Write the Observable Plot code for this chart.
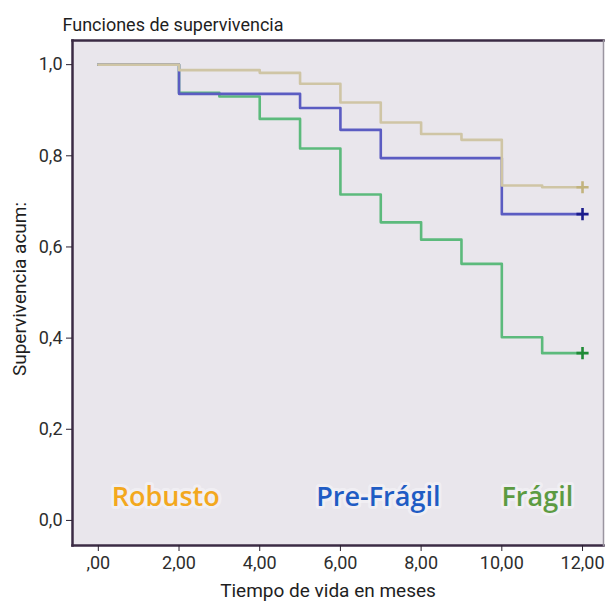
<!DOCTYPE html>
<html>
<head>
<meta charset="utf-8">
<script src="https://cdn.jsdelivr.net/npm/d3@7"></script>
<script src="https://cdn.jsdelivr.net/npm/@observablehq/plot@0.6"></script>
<style>
  html, body { margin: 0; padding: 0; background: #ffffff; }
  #chart svg { display: block; }
</style>
</head>
<body>
<div id="chart"></div>
<script>
// ---- Data ----
const groups = ["Robusto", "Pre-Frágil", "Frágil"];
const lineColors = ["#cfc5a5", "#5b5cc2", "#5cba7c"];
const markerColors = ["#c2b37e", "#1b1b8c", "#1f8a36"];
const legendColors = ["#f3a81e", "#1f5cc4", "#5c9b42"];

const robustoTime = [0, 2, 4, 5, 6, 7, 8, 9, 10, 11, 12];
const robustoSurv = [1.0, 0.988, 0.982, 0.958, 0.917, 0.873, 0.848, 0.835, 0.735, 0.731, 0.731];

const prefragilTime = [0, 2, 5, 6, 7, 10, 12];
const prefragilSurv = [1.0, 0.936, 0.905, 0.857, 0.795, 0.672, 0.672];

const fragilTime = [0, 2, 3, 4, 5, 6, 7, 8, 9, 10, 11, 12];
const fragilSurv = [1.0, 0.938, 0.930, 0.881, 0.816, 0.715, 0.654, 0.616, 0.563, 0.402, 0.367, 0.367];

const xTicks = [0, 2, 4, 6, 8, 10, 12];
const yTicks = [0, 0.2, 0.4, 0.6, 0.8, 1.0];

const titleText = "Funciones de supervivencia";
const xLabel = "Tiempo de vida en meses";
const yLabel = "Supervivencia acum:";

// legend label anchor positions (in data units)
const legendX = [1.67, 6.94, 10.88];
const legendY = 0.05;

// ---- Build tables ----
const series = [
  {g: groups[0], t: robustoTime, s: robustoSurv},
  {g: groups[1], t: prefragilTime, s: prefragilSurv},
  {g: groups[2], t: fragilTime, s: fragilSurv}
];
const rows = series.flatMap(d => d.t.map((t, i) => ({group: d.g, time: t, surv: d.s[i]})));
const ends = series.map(d => ({group: d.g, time: d.t[d.t.length - 1], surv: d.s[d.s.length - 1]}));
const legendRows = groups.map((g, i) => ({group: g, x: legendX[i], y: legendY}));

const drawOrder = [groups[2], groups[1], groups[0]];

const fmtX = d => d === 0 ? ",00" : d.toFixed(2).replace(".", ",");
const fmtY = d => d.toFixed(1).replace(".", ",");

const font = "Roboto, 'Liberation Sans', sans-serif";

const chart = Plot.plot({
  width: 608,
  height: 603,
  marginLeft: 72,
  marginRight: 5,
  marginTop: 40,
  marginBottom: 58,
  style: {fontFamily: font, background: "#ffffff", overflow: "visible"},
  x: {domain: [-0.64, 12.52]},
  y: {domain: [-0.055, 1.053]},
  marks: [
    Plot.frame({fill: "#e9e6ec", stroke: null}),
    Plot.frame({anchor: "top", stroke: "#3b2b45", strokeWidth: 2.5}),
    Plot.frame({anchor: "left", stroke: "#3b2b45", strokeWidth: 2.5}),
    Plot.frame({anchor: "bottom", stroke: "#3b2b45", strokeWidth: 2.5}),
    Plot.frame({anchor: "right", stroke: "#9a95a0", strokeWidth: 1.5}),
    Plot.axisX({ticks: xTicks, tickFormat: fmtX, tickSize: 6, tickPadding: 5, tickWidth: 3,
      stroke: "#2a2030", fontSize: 18, fill: "#2d2d2d", label: null}),
    Plot.axisY({ticks: yTicks, tickFormat: fmtY, tickSize: 6, tickPadding: 4, tickWidth: 2.5,
      stroke: "#2a2030", fontSize: 18, fill: "#2d2d2d", label: null}),
    ...drawOrder.map(g => Plot.line(rows.filter(r => r.group === g), {
      x: "time", y: "surv", stroke: lineColors[groups.indexOf(g)],
      strokeWidth: 2.6, curve: "step-after"
    })),
    Plot.dot(ends, {x: "time", y: "surv", symbol: "plus", r: 4,
      stroke: d => markerColors[groups.indexOf(d.group)], strokeWidth: 2.6}),
    Plot.text(legendRows, {x: "x", y: "y", text: "group",
      fill: d => legendColors[groups.indexOf(d.group)],
      fontSize: 27, fontWeight: 600, fontFamily: "'Open Sans', sans-serif",
      stroke: "#f6f5f8", strokeWidth: 6, strokeOpacity: 0.6}),
    Plot.text([titleText], {frameAnchor: "top-left", dx: -10, dy: -22, text: d => d,
      fontSize: 18, fill: "#1e1e1e", textAnchor: "start"}),
    Plot.text([xLabel], {frameAnchor: "bottom", dy: 51, dx: -10, text: d => d,
      fontSize: 19, fill: "#1e1e1e", textAnchor: "middle"}),
    Plot.text([yLabel], {frameAnchor: "left", dx: -53, dy: -4, rotate: -90, text: d => d,
      fontSize: 19, fill: "#1e1e1e", textAnchor: "middle"})
  ]
});

document.getElementById("chart").append(chart);
</script>
</body>
</html>
